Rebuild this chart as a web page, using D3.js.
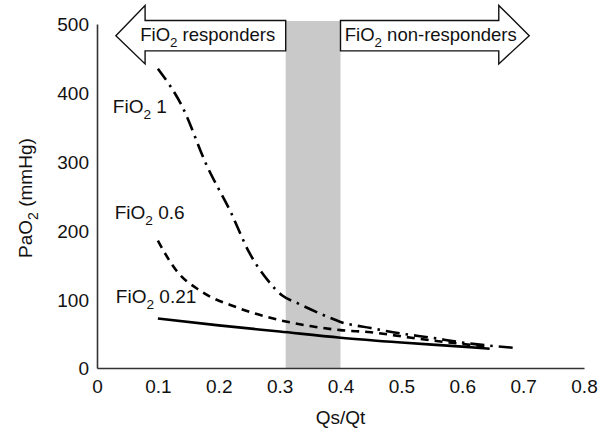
<!DOCTYPE html>
<html>
<head>
<meta charset="utf-8">
<script src="https://cdn.jsdelivr.net/npm/d3@7"></script>
<style>
  body { margin: 0; background: #fff; }
  text { font-family: "Liberation Sans", Arial, sans-serif; fill: #111; }
</style>
</head>
<body>
<div id="chart"></div>
<script>
// data
var xTicks = [0, 0.1, 0.2, 0.3, 0.4, 0.5, 0.6, 0.7, 0.8];
var yTicks = [0, 100, 200, 300, 400, 500];

var fio2_1 = [[0.1,435],[0.14,380],[0.18,295],[0.22,226],[0.25,168],[0.28,128],[0.305,105],[0.33,94],[0.38,74],[0.4,67],[0.45,58],[0.5,50],[0.55,44],[0.6,37],[0.65,32],[0.69,29]];
var fio2_06 = [[0.1,185],[0.13,142],[0.17,112],[0.23,88],[0.28,74],[0.35,61],[0.4,55],[0.45,52],[0.5,46],[0.55,40],[0.6,35],[0.64,31]];
var fio2_021 = [[0.1,72],[0.2,62],[0.3,53],[0.4,44],[0.5,37],[0.6,31],[0.645,28]];

var band = [0.31, 0.4];

// set the dimensions and margins of the graph
var W = 606, H = 430;
var margin = {top: 24, right: 22, bottom: 62, left: 97},
    width = W - margin.left - margin.right,
    height = H - margin.top - margin.bottom;

var svg = d3.select("#chart")
  .append("svg")
    .attr("width", W)
    .attr("height", H)
  .append("g")
    .attr("transform", "translate(" + margin.left + "," + margin.top + ")");

var x = d3.scaleLinear().domain([0, 0.8]).range([0, width]);
var y = d3.scaleLinear().domain([0, 500]).range([height, 0]);

// grey band
svg.append("rect")
  .attr("x", x(band[0]))
  .attr("y", -3)
  .attr("width", x(band[1]) - x(band[0]))
  .attr("height", height + 3)
  .attr("fill", "#c8c9c8");

// axes (no tick marks)
var xAxis = svg.append("g")
  .attr("transform", "translate(0," + height + ")")
  .call(d3.axisBottom(x).tickValues(xTicks).tickSize(0).tickPadding(8)
    .tickFormat(function(d){ return d === 0 ? "0" : d3.format(".1f")(d) }));
var yAxis = svg.append("g")
  .call(d3.axisLeft(y).tickValues(yTicks).tickSize(0).tickPadding(8));

[xAxis, yAxis].forEach(function(a){
  a.select(".domain").attr("stroke", "#333").attr("stroke-width", 1.6);
  a.selectAll("text").style("font-size", "19px").attr("fill", "#111")
    .style("font-family", "'Liberation Sans', Arial, sans-serif");
});
xAxis.selectAll("text").attr("dy", "0.9em");
yAxis.selectAll("text").attr("dy", "0.36em");

// curves
var line = d3.line()
  .curve(d3.curveMonotoneX)
  .x(function(d){ return x(d[0]) })
  .y(function(d){ return y(d[1]) });

svg.append("path").datum(fio2_021)
  .attr("fill", "none").attr("stroke", "#000").attr("stroke-width", 2.6)
  .attr("d", line);
svg.append("path").datum(fio2_06)
  .attr("fill", "none").attr("stroke", "#000").attr("stroke-width", 2.6)
  .attr("stroke-dasharray", "8,6")
  .attr("d", line);
svg.append("path").datum(fio2_1)
  .attr("fill", "none").attr("stroke", "#000").attr("stroke-width", 2.6)
  .attr("stroke-dasharray", "14,6,2.5,6")
  .attr("d", line);

// label with subscript
function fioLabel(g, px, py, rest, size) {
  var t = g.append("text").attr("x", px).attr("y", py).style("font-size", size + "px");
  t.append("tspan").text("FiO");
  t.append("tspan").text("2").attr("dy", 6).style("font-size", (size * 0.72) + "px");
  t.append("tspan").text(" " + rest).attr("dy", -6);
  return t;
}

fioLabel(svg, x(0.026), y(370), "1", 19);
fioLabel(svg, x(0.029), y(217), "0.6", 19);
fioLabel(svg, x(0.031), y(94), "0.21", 19);

// arrows
var aTop = y(505), aBot = y(461), hTop = y(527), hBot = y(442), aMid = (aTop + aBot) / 2;
var leftArrow = [[x(band[0]), aTop], [x(0.079), aTop], [x(0.079), hTop], [x(0.031), aMid],
                 [x(0.079), hBot], [x(0.079), aBot], [x(band[0]), aBot]];
var rightArrow = [[x(band[1]), aTop], [x(0.66), aTop], [x(0.66), hTop], [x(0.71), aMid],
                  [x(0.66), hBot], [x(0.66), aBot], [x(band[1]), aBot]];
[leftArrow, rightArrow].forEach(function(p){
  svg.append("path")
    .attr("d", "M" + p.join("L") + "Z")
    .attr("fill", "#fff").attr("stroke", "#111").attr("stroke-width", 1.4);
});
fioLabel(svg, x(0.071), aMid + 5, "responders", 18.5);
fioLabel(svg, x(0.407), aMid + 5, "non-responders", 18.5);

// axis titles
svg.append("text")
  .attr("x", x(0.4)).attr("y", height + 56)
  .attr("text-anchor", "middle").style("font-size", "19px")
  .text("Qs/Qt");

var yt = svg.append("text")
  .attr("transform", "translate(" + (-65) + "," + y(247) + ") rotate(-90)")
  .attr("text-anchor", "middle").style("font-size", "19px");
yt.append("tspan").text("PaO");
yt.append("tspan").text("2").attr("dy", 6).style("font-size", "14px");
yt.append("tspan").text(" (mmHg)").attr("dy", -6);
</script>
</body>
</html>
